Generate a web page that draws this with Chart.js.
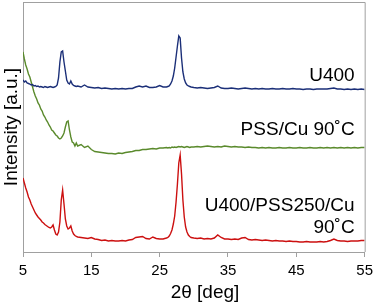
<!DOCTYPE html>
<html>
<head>
<meta charset="utf-8">
<script src="https://cdn.jsdelivr.net/npm/chart.js@4"></script>
<style>
html,body{margin:0;padding:0;background:#fff;}
#c{display:block;}
</style>
</head>
<body>
<canvas id="c" width="378" height="305"></canvas>
<script>
// 2θ grid (deg)
const twoTheta = [
 5.0,5.2,5.4,5.6,5.8,6.0,6.2,6.4,6.6,6.8,7.0,7.2,7.4,7.6,7.8,8.0,8.2,8.4,8.6,8.8,9.0,9.2,9.4,9.6,9.8,10.0,10.2,10.4,10.6,10.8,11.0,11.2,11.4,11.6,11.8,12.0,12.2,12.4,12.6,12.8,13.0,
 13.5,14,14.5,15,15.5,16,16.5,17,17.5,18,18.5,19,19.5,20,20.5,21,21.5,22,22.5,23,23.5,24,24.5,25,25.5,26,
 26.2,26.4,26.6,26.8,27.0,27.2,27.4,27.6,27.8,28.0,28.2,28.4,28.6,28.8,29.0,29.2,29.4,29.6,
 30,30.5,31,31.5,32,32.5,33,33.5,34,34.5,35,35.5,36,36.5,37,37.5,38,38.5,39,39.5,40,40.5,41,41.5,42,42.5,43,43.5,44,44.5,45,45.5,46,46.5,47,47.5,48,48.5,49,49.5,50,50.5,51,51.5,52,52.5,53,53.5,54,54.5,55
];
// U400 (offset intensity, a.u.)
const u400 = [
 172,170,171,169,168.5,168,167,167.5,166,166.5,165.5,166,165,165.5,165,164.5,165.5,165,164.5,165,165.5,165,164.5,165,165.5,167,174,190,200,201,190,181,172,169,168,171,168,166.5,166,165.5,166,
 165,167,165,164.5,164,164.5,163.5,164,163.5,163,163.5,163,163.5,163,163.5,163.5,165,166,165,166,164.5,164.5,165,166.5,165,165,
 165.5,166,168,171,176,184,195,206,216,214,194,180,173,169,167,166,165.5,165,
 164.5,164,164.5,164,163.5,164,164.5,166,164,163.5,163.5,164,163.5,163,163.5,164,163.5,163,163.5,163,163.5,163,163,163.5,163,163,163.5,163,163,163.5,163,163,162.5,163,163,162.5,163,163,163,163,163.5,164,163,163,162.5,163,162.5,163,162.5,163,162.5
];
// PSS/Cu 90˚C
const pssCu = [
 200,193,187,183,178,175,170,165,160,156,153,149,147,143,141,137,135,132,130,127,125,122,121,119,117,116,114,113,114,116,119,125,130,131,122,115,110,109,106,109,106,
 107.5,104.5,106,102.5,100.5,100,99.5,99,98.5,98.5,98,99,98.5,99.5,100,100.5,101.5,101.5,102.5,102.5,103,103.5,103,104,104,104.5,
 104,104.5,104,105,104.5,105,104.5,105,105.5,105,105.5,105,104.5,105,105.5,105,104.5,105,
 105,105.5,105,105.5,106,105.5,105,105.5,105,106,105.5,105,105.5,105,105,104.5,105,104.5,104.5,104,104.5,104,104.5,104,104,104.5,104,104,104.5,104,104,104.5,104,104,104.5,104,104,104.5,104,104.5,104,104.5,104,104.5,104,104.5,104,104.5,104,104.5,104.5
];
// U400/PSS250/Cu 90˚C
const u400Pss = [
 74,69,64,60,55,52,48,45,42,39,37,35,33.5,32,30,29,27.5,26.5,25.5,24.5,24,25,27,22,18,17,20,30,52,62,48,33,26,23,24,26,21,18,16.5,15.5,15,
 14.5,14,13.5,14.5,13,12.5,11.5,12,11,11.5,11,11,11.5,11,12,12.5,14.5,15,15.5,13.5,13,15,13.5,13,13,14,
 14.5,16,18.5,22,28,36,50,68,89,97,78,52,35,25,20,17,15.5,14.5,
 14,13.5,14,13,13.5,13,14,17,14.5,13,13,12.5,13,12.5,14,14.5,12.5,12,12.5,12,11.5,12,11.5,11,11.5,11,11,10.5,11,10.5,10.5,10,10,10.5,10,10,10,10.5,10,10.5,11.5,13,11.5,11,11,10.5,11,11,11,11.5,11.5
];
const xTicks = [5,15,25,35,45,55];
const seriesNames = ['U400','PSS/Cu 90˚C','U400/PSS250/Cu 90˚C'];

const FONT = '"Liberation Sans", Arial, sans-serif';
const AXIS = '#a0a0a0';

function pts(ys){ return twoTheta.map((x,i)=>({x:x,y:ys[i]})); }

const overlay = {
  id:'overlay',
  afterDraw(chart){
    const ctx = chart.ctx, a = chart.chartArea;
    ctx.save();
    // frame top/right
    ctx.strokeStyle = AXIS; ctx.lineWidth = 1;
    ctx.beginPath();
    ctx.moveTo(a.left, a.top+0.5); ctx.lineTo(a.right+0.5, a.top+0.5);
    ctx.lineTo(a.right+0.5, a.bottom);
    ctx.stroke();
    // series labels
    ctx.fillStyle = '#000';
    ctx.font = '19px ' + FONT;
    ctx.textAlign = 'right'; ctx.textBaseline = 'middle';
    const rx = a.right - 10;
    ctx.fillText('U400', rx, 76);
    ctx.fillText('PSS/Cu 90˚C', rx, 130);
    ctx.fillText('U400/PSS250/Cu', rx, 206);
    ctx.fillText('90˚C', rx, 228);
    // x title
    ctx.textAlign = 'center';
    ctx.fillText('2θ [deg]', 205, 293);
    ctx.restore();
  }
};

new Chart(document.getElementById('c'), {
  type:'line',
  data:{
    datasets:[
      {label:seriesNames[0], data:pts(u400), borderColor:'#1b2f78', borderWidth:1.4, pointRadius:0, tension:0},
      {label:seriesNames[1], data:pts(pssCu), borderColor:'#5a8a2c', borderWidth:1.4, pointRadius:0, tension:0},
      {label:seriesNames[2], data:pts(u400Pss), borderColor:'#cc1010', borderWidth:1.4, pointRadius:0, tension:0}
    ]
  },
  options:{
    responsive:false, animation:false, devicePixelRatio:1,
    layout:{padding:{top:2,right:10,left:0,bottom:0}},
    plugins:{legend:{display:false}, tooltip:{enabled:false}},
    scales:{
      x:{
        type:'linear', min:5, max:55,
        afterBuildTicks(s){ s.ticks = xTicks.map(v=>({value:v})); },
        afterFit(s){ s.height = 53; },
        grid:{drawOnChartArea:false, drawTicks:true, tickLength:5, color:AXIS},
        border:{display:true, color:AXIS},
        ticks:{color:'#000', font:{family:FONT, size:15}, padding:5, maxRotation:0}
      },
      y:{
        min:0, max:250,
        afterFit(s){ s.width = 23; },
        grid:{display:true, drawOnChartArea:false, drawTicks:false, color:AXIS},
        border:{display:true, color:AXIS},
        ticks:{display:false},
        title:{display:true, text:'Intensity [a.u.]', color:'#000', font:{family:FONT, size:19}, padding:{top:0,bottom:0}}
      }
    }
  },
  plugins:[overlay]
});
</script>
</body>
</html>
